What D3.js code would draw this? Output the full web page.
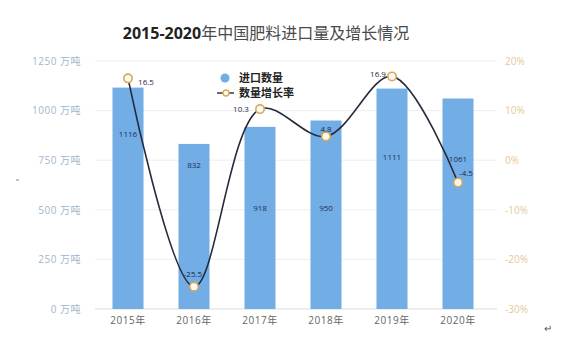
<!DOCTYPE html>
<html><head><meta charset="utf-8">
<script src="https://cdn.jsdelivr.net/npm/d3@7/dist/d3.min.js"></script>
<style>body{margin:0;background:#fff;font-family:"Noto Sans CJK SC","Open Sans",sans-serif;}</style>
</head><body><svg id="c" width="580" height="357"></svg>
<script>
(function(){
const years = ["2015年","2016年","2017年","2018年","2019年","2020年"];
const imports = [1116, 832, 918, 950, 1111, 1061];
const growth = [16.5, -25.5, 10.3, 4.8, 16.9, -4.5];
const leftTicks = [0, 250, 500, 750, 1000, 1250];
const rightTicks = [-30, -20, -10, 0, 10, 20];

const svg = d3.select("#c");
const pTop = 61, pBottom = 309, pLeft = 95, pRight = 491;
const x = d3.scaleBand().domain(years).range([pLeft, pRight]).paddingInner(0.53).paddingOuter(0.265);
const y = d3.scaleLinear().domain([0, 1250]).range([pBottom, pTop]);
const y2 = d3.scaleLinear().domain([-30, 20]).range([pBottom, pTop]);
const cx = d => x(d) + x.bandwidth()/2;

// title
svg.append("text").attr("x", 266).attr("y", 39).attr("text-anchor","middle")
  .style("font-size","16px").attr("fill","#333")
  .html('<tspan font-weight="bold" font-family="Open Sans" fill="#222">2015-2020</tspan><tspan fill="#4a4a4a">年中国肥料进口量及增长情况</tspan>');

// grid
svg.append("g").selectAll("line").data(leftTicks).join("line")
  .attr("x1", pLeft).attr("x2", 497).attr("y1", d=>y(d)).attr("y2", d=>y(d))
  .attr("stroke", d=> d===0 ? "#dcdcdc" : "#eeeeee").attr("stroke-width",1);

// left axis labels
const la = d3.axisLeft(y).tickValues(leftTicks).tickSize(0).tickFormat(d=>d+" 万吨");
svg.append("g").attr("transform",`translate(${pLeft-11},0)`).call(la)
  .call(g=>g.select(".domain").remove())
  .selectAll("text").attr("fill","#9fb6cc").style("font-size","10px")
  .style("font-family","Open Sans, Noto Sans CJK SC").style("letter-spacing","0.5px");

// right axis labels
const ra = d3.axisRight(y2).tickValues(rightTicks).tickSize(0).tickFormat(d=>d+"%");
svg.append("g").attr("transform",`translate(502,0)`).call(ra)
  .call(g=>g.select(".domain").remove())
  .selectAll("text").attr("fill","#e6c79a").style("font-size","10px").style("font-family","Open Sans");

// x axis labels
const xa = d3.axisBottom(x).tickSize(0);
svg.append("g").attr("transform",`translate(0,${pBottom+5})`).call(xa)
  .call(g=>g.select(".domain").remove())
  .selectAll("text").attr("fill","#666").style("font-size","10px")
  .style("font-family","Open Sans, Noto Sans CJK SC").style("letter-spacing","0.5px");

// bars
svg.append("g").selectAll("rect").data(imports).join("rect")
  .attr("x",(d,i)=>x(years[i])).attr("width",x.bandwidth())
  .attr("y",d=>y(d)).attr("height",d=>pBottom-y(d)).attr("fill","#72ade6");

// bar labels (anchor in value units for placement)
const barLabelAt = [882, 726, 509, 509, 766, 756];
svg.append("g").selectAll("text").data(imports).join("text")
  .attr("x",(d,i)=>cx(years[i])).attr("y",(d,i)=>y(barLabelAt[i])+3)
  .attr("text-anchor","middle").style("font-size","8px").style("font-family","Open Sans")
  .attr("fill","#1f3050").text(d=>d);

// line
const line = d3.line().x((d,i)=>cx(years[i])).y(d=>y2(d)).curve(d3.curveCatmullRom.alpha(0.5));
svg.append("path").attr("d", line(growth)).attr("fill","none").attr("stroke","#262a3a").attr("stroke-width",1.6);
svg.append("g").selectAll("circle").data(growth).join("circle")
  .attr("cx",(d,i)=>cx(years[i])).attr("cy",d=>y2(d)).attr("r",4.2)
  .attr("fill","#fffaf0").attr("stroke","#d9a95a").attr("stroke-width",1.6);

// point labels
const plDx = [18, -1, -19, 0, -14, 8];
const plDy = [7, -10, 3, -4, 1, -7];
svg.append("g").selectAll("text").data(growth).join("text")
  .attr("x",(d,i)=>cx(years[i])+plDx[i]).attr("y",(d,i)=>y2(d)+plDy[i])
  .attr("text-anchor","middle").style("font-size","8px").style("font-family","Open Sans")
  .attr("fill","#1f2a44").text(d=>d);

// legend
const lg = svg.append("g");
lg.append("circle").attr("cx",225).attr("cy",78).attr("r",4.5).attr("fill","#72ade6");
lg.append("text").attr("x",239).attr("y",82).text("进口数量").style("font-size","11px").attr("fill","#222").style("font-weight","bold");
lg.append("line").attr("x1",217).attr("x2",234).attr("y1",93).attr("y2",93).attr("stroke","#262a3a").attr("stroke-width",1.4);
lg.append("circle").attr("cx",226).attr("cy",93).attr("r",3).attr("fill","#fffaf0").attr("stroke","#d9a95a").attr("stroke-width",1.3);
lg.append("text").attr("x",239).attr("y",97).text("数量增长率").style("font-size","11px").attr("fill","#222").style("font-weight","bold");

// stray marks
svg.append("text").attr("x",544).attr("y",332).text("↵").style("font-size","10px").attr("fill","#555");
svg.append("line").attr("x1",16).attr("x2",19).attr("y1",180).attr("y2",180).attr("stroke","#888");
})();
</script></body></html>
